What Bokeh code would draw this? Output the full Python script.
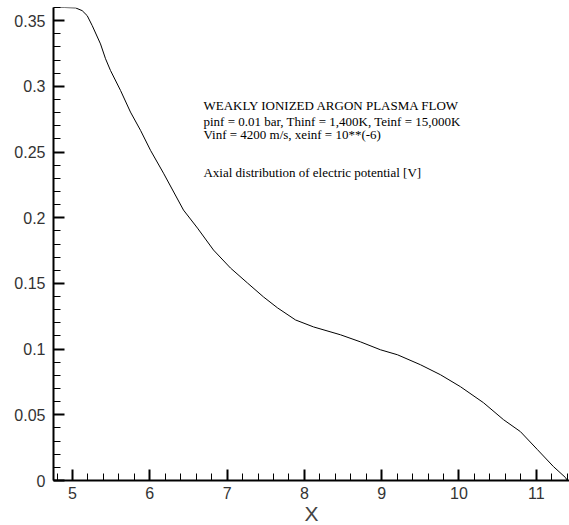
from bokeh.plotting import figure
from bokeh.models import FixedTicker, Range1d, Label
from bokeh.embed import file_html
from bokeh.resources import INLINE

# Data
x_vals = [4.754, 4.90, 5.04, 5.125, 5.19, 5.255, 5.362, 5.427, 5.491, 5.621, 5.75, 5.88,
          6.009, 6.177, 6.436, 6.617, 6.824, 7.044, 7.264, 7.471, 7.652, 7.885, 8.118,
          8.467, 8.726, 8.984, 9.204, 9.502, 9.76, 10.019, 10.317, 10.576, 10.795,
          11.015, 11.222, 11.377, 11.403]
potential = [0.360, 0.360, 0.3597, 0.3576, 0.3538, 0.3462, 0.3323, 0.3210, 0.3121, 0.2969,
             0.2804, 0.2665, 0.2513, 0.2339, 0.2058, 0.1921, 0.1754, 0.1617, 0.1503,
             0.1397, 0.1314, 0.1222, 0.1169, 0.1109, 0.1055, 0.0995, 0.0957, 0.0881,
             0.0805, 0.0714, 0.0592, 0.0463, 0.0372, 0.0235, 0.0106, 0.0023, 0.0]

x_ticks = [5, 6, 7, 8, 9, 10, 11]
x_tick_labels = ["5", "6", "7", "8", "9", "10", "11"]
y_ticks = [0, 0.05, 0.1, 0.15, 0.2, 0.25, 0.3, 0.35]
y_tick_labels = ["0", "0.05", "0.1", "0.15", "0.2", "0.25", "0.3", "0.35"]
x_minor = [round(4.8 + 0.2 * i, 2) for i in range(34)]
y_minor = [round(0.01 * i, 2) for i in range(37)]

note_lines = [
    "WEAKLY  IONIZED ARGON PLASMA FLOW",
    "pinf = 0.01 bar, Thinf = 1,400K, Teinf = 15,000K",
    "Vinf = 4200 m/s, xeinf = 10**(-6)",
    "Axial distribution of  electric potential [V]",
]
note_y = [0.2855, 0.2735, 0.2632, 0.2346]
note_x = 6.694

p = figure(width=569, height=527, output_backend="svg", toolbar_location=None,
           x_range=Range1d(4.754, 11.43), y_range=Range1d(0, 0.36),
           min_border_left=53, min_border_right=0, min_border_top=7, min_border_bottom=44)
p.outline_line_color = None
p.xgrid.visible = False
p.ygrid.visible = False
p.background_fill_color = "white"
p.border_fill_color = "white"

p.line(x_vals, potential, line_color="black", line_width=1)

for ax, ticks, minor, labels in ((p.xaxis[0], x_ticks, x_minor, x_tick_labels),
                                 (p.yaxis[0], y_ticks, y_minor, y_tick_labels)):
    ax.ticker = FixedTicker(ticks=ticks, minor_ticks=minor)
    ax.major_label_overrides = {t: l for t, l in zip(ticks, labels)}
    ax.axis_line_width = 2
    ax.axis_line_color = "black"
    ax.major_tick_in = 11
    ax.major_tick_out = 0
    ax.minor_tick_in = 7
    ax.minor_tick_out = 0
    ax.major_tick_line_width = 2
    ax.minor_tick_line_width = 1
    ax.major_label_text_font = "Liberation Sans"
    ax.major_label_text_font_size = "16px"
    ax.major_label_text_color = "#333333"

p.yaxis[0].major_label_standoff = 8
p.xaxis[0].major_label_standoff = 6
p.xaxis[0].axis_label = "X"
p.xaxis[0].axis_label_text_font = "Liberation Sans"
p.xaxis[0].axis_label_text_font_size = "21px"
p.xaxis[0].axis_label_text_font_style = "normal"
p.xaxis[0].axis_label_standoff = 0

for txt, yy in zip(note_lines, note_y):
    p.add_layout(Label(x=note_x, y=yy, text=txt, text_font="Liberation Serif",
                       text_font_size="13px", text_color="black",
                       text_baseline="alphabetic"))

open("out.html", "w").write(file_html(p, INLINE))
